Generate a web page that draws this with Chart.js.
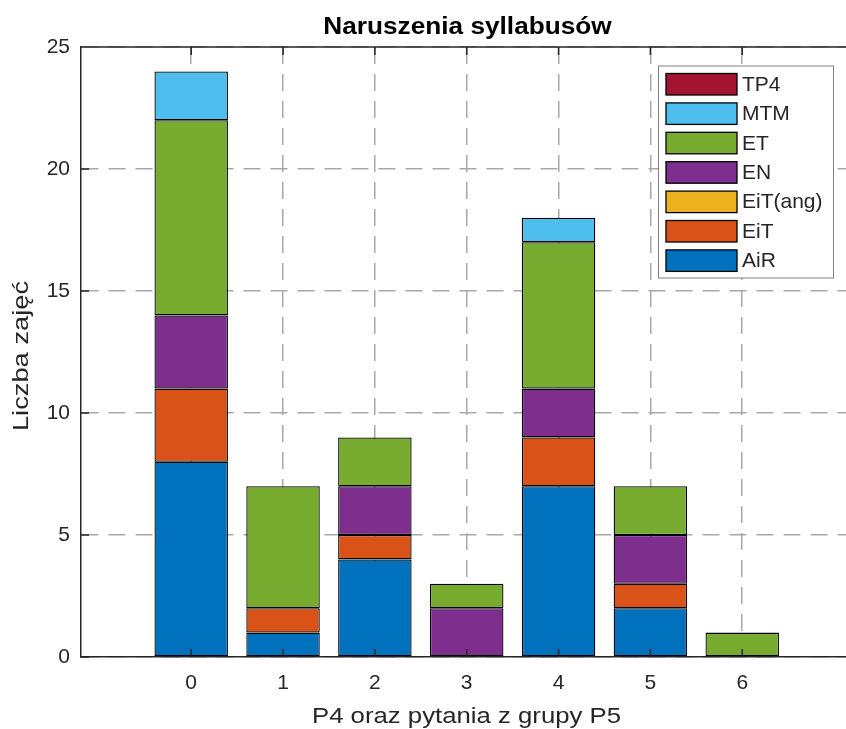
<!DOCTYPE html>
<html>
<head>
<meta charset="utf-8">
<script src="https://cdn.jsdelivr.net/npm/chart.js@4.4.1/dist/chart.umd.min.js"></script>
<style>
  html, body { margin: 0; padding: 0; background: #fff; }
</style>
</head>
<body>
<canvas id="chart1" width="846" height="729"></canvas>
<script>
// values
var groups = [0, 1, 2, 3, 4, 5, 6];
var seriesNames = ['AiR', 'EiT', 'EiT(ang)', 'EN', 'ET', 'MTM', 'TP4'];
var AiR     = [8, 1, 4, 0, 7, 2, 0];
var EiT     = [3, 1, 1, 0, 2, 1, 0];
var EiT_ang = [0, 0, 0, 0, 0, 0, 0];
var EN      = [3, 0, 2, 2, 2, 2, 0];
var ET      = [8, 5, 2, 1, 6, 2, 1];
var MTM     = [2, 0, 0, 0, 1, 0, 0];
var TP4     = [0, 0, 0, 0, 0, 0, 0];
var yTicks = [0, 5, 10, 15, 20, 25];

var seriesValues = [AiR, EiT, EiT_ang, EN, ET, MTM, TP4];
var seriesColors = ['#0072BD', '#D95319', '#EDB120', '#7E2F8E', '#77AC30', '#4DBEEE', '#A2142F'];

var FONT = "'Liberation Sans', Arial, sans-serif";
var AXIS_COL = '#262626';

var datasets = seriesNames.map(function (name, i) {
  return {
    label: name,
    data: groups.map(function (g, j) { return { x: g, y: seriesValues[i][j] }; }),
    backgroundColor: seriesColors[i],
    borderColor: '#000',
    borderWidth: 1.3,
    borderSkipped: false,
    barPercentage: 0.8,
    categoryPercentage: 1.0
  };
});

// matlab style box: top line + inward ticks
var axesBox = {
  id: 'axesBox',
  afterDatasetsDraw: function (chart) {
    var ctx = chart.ctx, a = chart.chartArea;
    var xs = chart.scales.x, ys = chart.scales.y;
    ctx.save();
    ctx.strokeStyle = AXIS_COL;
    ctx.lineWidth = 1.5;
    ctx.beginPath();
    ctx.moveTo(a.left, a.top);
    ctx.lineTo(a.right, a.top);
    groups.forEach(function (g) {
      var px = xs.getPixelForValue(g);
      ctx.moveTo(px, a.bottom);
      ctx.lineTo(px, a.bottom - 8);
      ctx.moveTo(px, a.top);
      ctx.lineTo(px, a.top + 8);
    });
    yTicks.forEach(function (v) {
      var py = ys.getPixelForValue(v);
      ctx.moveTo(a.left, py);
      ctx.lineTo(a.left + 8, py);
    });
    ctx.stroke();
    ctx.restore();
  }
};

// text drawn a bit wider, like the exported original
function wideText(ctx, text, x, y, rot, sx) {
  ctx.save();
  ctx.translate(x, y);
  if (rot) ctx.rotate(rot);
  ctx.scale(sx, 1);
  ctx.fillText(text, 0, 0);
  ctx.restore();
}

var labelsAndLegend = {
  id: 'labelsAndLegend',
  afterDraw: function (chart) {
    var ctx = chart.ctx, a = chart.chartArea;
    var midX = (a.left + a.right) / 2;
    ctx.save();
    ctx.fillStyle = '#000';
    ctx.font = 'bold 23px ' + FONT;
    ctx.textAlign = 'center';
    ctx.textBaseline = 'alphabetic';
    wideText(ctx, 'Naruszenia syllabusów', midX + 4, 34, 0, 1.14);

    ctx.fillStyle = AXIS_COL;
    ctx.font = '22px ' + FONT;
    wideText(ctx, 'P4 oraz pytania z grupy P5', midX + 3, 723, 0, 1.17);
    wideText(ctx, 'Liczba zajęć', 27.5, (a.top + a.bottom) / 2 + 4, -Math.PI / 2, 1.24);

    // legend box
    var bx = 658.5, by = 66, bw = 175, bh = 212;
    ctx.fillStyle = '#fff';
    ctx.fillRect(bx, by, bw, bh);
    ctx.strokeStyle = '#808080';
    ctx.lineWidth = 1;
    ctx.strokeRect(bx, by, bw, bh);
    ctx.font = '21px ' + FONT;
    ctx.textAlign = 'left';
    ctx.textBaseline = 'middle';
    var ds = chart.data.datasets.slice().reverse();
    ds.forEach(function (d, i) {
      var sy = 73.5 + i * 29.4;
      ctx.fillStyle = d.backgroundColor;
      ctx.fillRect(666, sy, 71, 21.5);
      ctx.strokeStyle = '#000';
      ctx.lineWidth = 1.3;
      ctx.strokeRect(666, sy, 71, 21.5);
      ctx.fillStyle = AXIS_COL;
      ctx.fillText(d.label, 742, sy + 11.5);
    });
    ctx.restore();
  }
};

var ctx1 = document.getElementById('chart1').getContext('2d');
var chart1 = new Chart(ctx1, {
  type: 'bar',
  data: { datasets: datasets },
  options: {
    responsive: false,
    animation: false,
    devicePixelRatio: 1,
    layout: { padding: { top: 47, left: 0, right: 0, bottom: 0 } },
    plugins: {
      legend: { display: false },
      title: { display: false },
      tooltip: { enabled: false }
    },
    scales: {
      x: {
        type: 'linear',
        stacked: true,
        offset: false,
        min: -1.2,
        max: 7.13,
        afterBuildTicks: function (scale) {
          scale.ticks = groups.map(function (g) { return { value: g }; });
        },
        afterFit: function (scale) { scale.height = 72; },
        grid: { color: '#a8a8a8', lineWidth: 1.5, drawTicks: false, offset: false },
        border: { display: true, color: AXIS_COL, width: 1.5, dash: [17, 10] },
        ticks: { color: AXIS_COL, padding: 14, font: { family: FONT, size: 21 }, maxRotation: 0 }
      },
      y: {
        stacked: true,
        min: 0,
        max: 25,
        afterBuildTicks: function (scale) {
          scale.ticks = yTicks.map(function (v) { return { value: v }; });
        },
        afterFit: function (scale) { scale.width = 81; },
        grid: { color: '#a8a8a8', lineWidth: 1.5, drawTicks: false },
        border: { display: true, color: AXIS_COL, width: 1.5, dash: [17, 10] },
        ticks: { color: AXIS_COL, padding: 11, font: { family: FONT, size: 21 } }
      }
    }
  },
  plugins: [axesBox, labelsAndLegend]
});
</script>
</body>
</html>
